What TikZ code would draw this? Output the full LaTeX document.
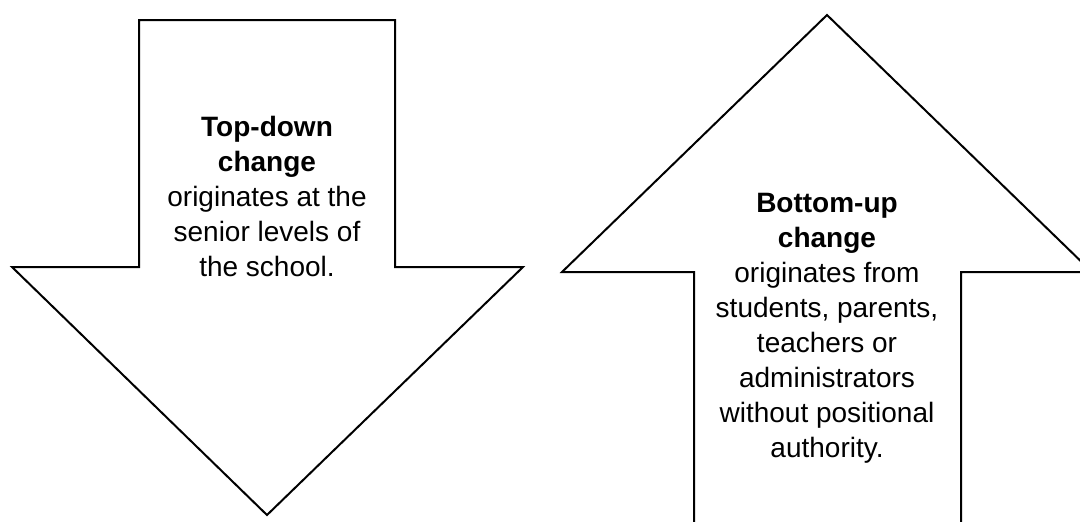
\documentclass[tikz,border=0pt]{standalone}
\usepackage{fontspec}
\setmainfont{Liberation Sans}
\usetikzlibrary{positioning}

\begin{document}
\begin{tikzpicture}[
    x=0.5pt, y=-0.5pt,
    blockarrow/.style={draw=black, line width=1pt, fill=white, line join=miter},
    arrowtext/.style={align=center, inner sep=0pt, font=\fontsize{14}{17.5}\selectfont}
]
    \clip (0,0) rectangle (1080,521);
    % Down arrow on the left.
    \draw[blockarrow] (139,20) -- (395,20) -- (395,267) -- (523,267) -- (267,515)
        -- (12,267) -- (139,267) -- cycle;
    % Up arrow on the right, cut by the page edge.
    \draw[blockarrow] (694,540) -- (694,272) -- (562,272) -- (827,15) -- (1092,272)
        -- (961,272) -- (961,540);

    \node[arrowtext] (topdown) at (267,196)
        {\textbf{Top-down}\\\textbf{change}\\originates at the\\senior levels of\\the school.};
    \node[arrowtext] (bottomup) at (827,328)
        {\textbf{Bottom-up}\\\textbf{change}\\originates from\\students, parents,\\teachers or\\administrators\\without positional\\authority.};
\end{tikzpicture}
\end{document}
